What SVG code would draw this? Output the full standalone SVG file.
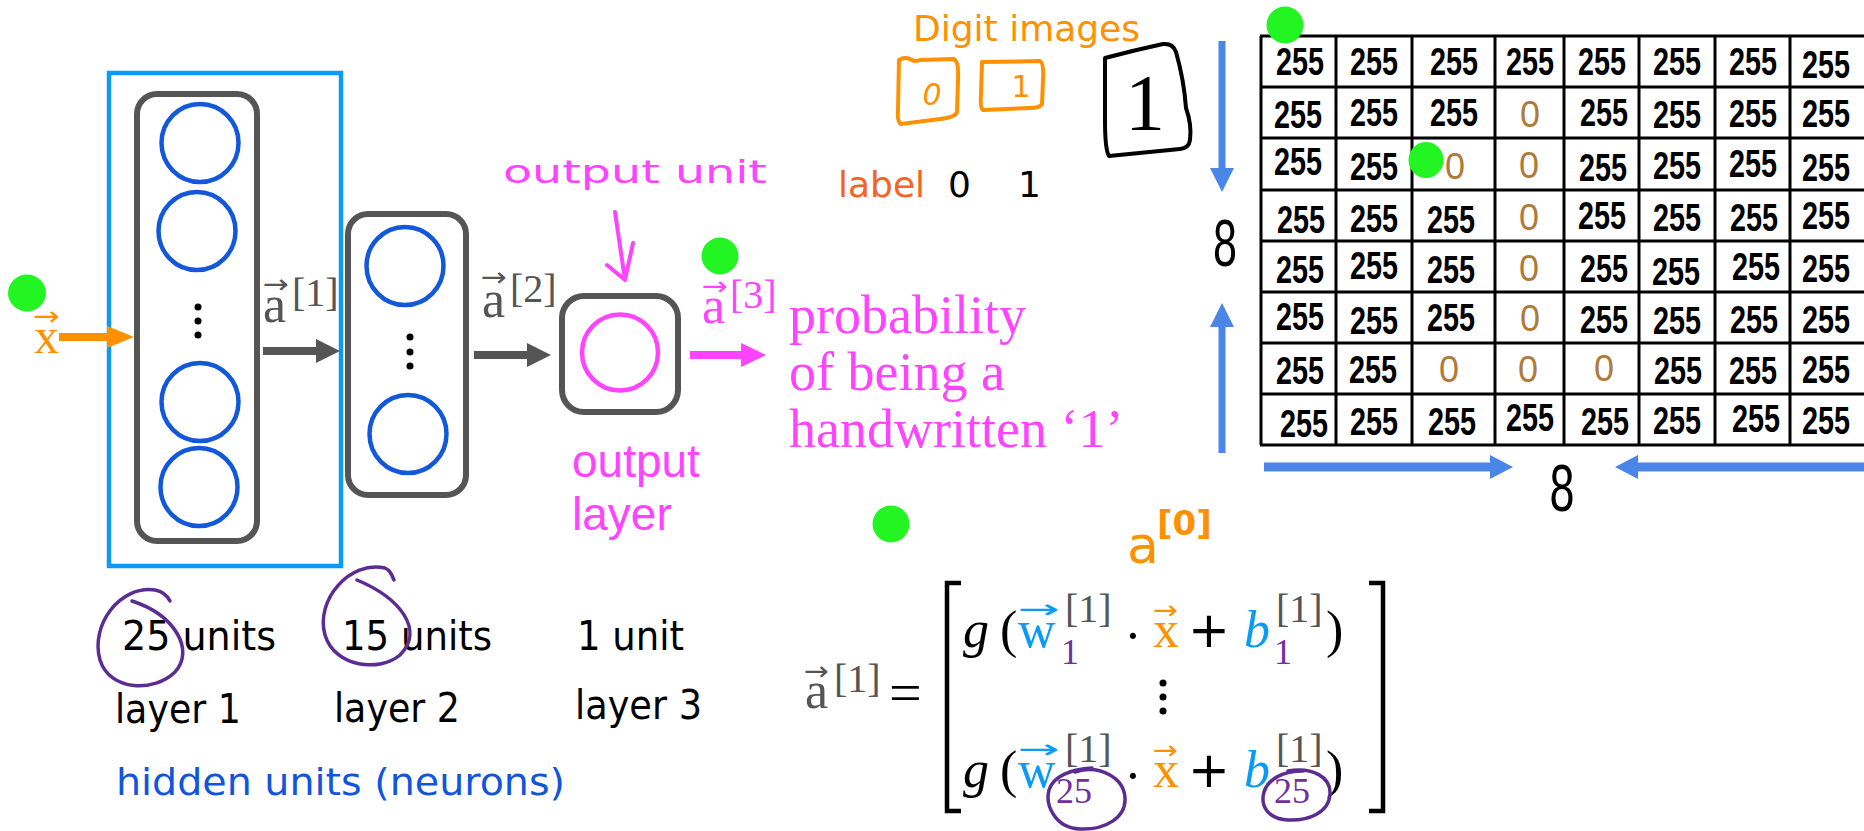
<svg xmlns="http://www.w3.org/2000/svg" width="1864" height="831" viewBox="0 0 1864 831">
<defs>
<style>
.gbox{fill:none;stroke:#555;stroke-width:6}
.neu{fill:none;stroke:#1358DA;stroke-width:4.5}
.dot{fill:#000}
.serif{font-family:"Liberation Serif","Times New Roman",serif}
.arr{font-family:"DejaVu Sans",sans-serif}
.lbl{font-family:"DejaVu Sans","Liberation Sans",sans-serif;font-size:40px;fill:#000}
.cell{font-family:"Liberation Sans",sans-serif;font-size:38px;font-weight:bold;text-anchor:middle;fill:#000}
.zero{font-family:"Liberation Sans",sans-serif;font-size:36px;text-anchor:middle;fill:#B07A3A}
.grid line{stroke:#000;stroke-width:3}
.green{fill:#22F522}
.purple{fill:none;stroke:#5B2C91;stroke-width:3.5;stroke-linecap:round}
.hand{fill:none;stroke-width:4;stroke-linecap:round;stroke-linejoin:round}
.blue{fill:#4A86E8}
</style>
</defs>
<rect width="1864" height="831" fill="#fff"/>

<g id="layer1">
<rect x="109" y="73" width="232" height="493" fill="none" stroke="#0B9BF6" stroke-width="4.5"/>
<rect class="gbox" x="137" y="94" width="120" height="447" rx="20"/>
<ellipse class="neu" cx="200" cy="143" rx="38.5" ry="39"/>
<ellipse class="neu" cx="197" cy="231" rx="38.5" ry="39"/>
<ellipse class="neu" cx="200" cy="402" rx="38.5" ry="39"/>
<ellipse class="neu" cx="199" cy="487" rx="38.5" ry="39"/>
<circle class="dot" cx="198" cy="307" r="3.5"/>
<circle class="dot" cx="198" cy="321" r="3.5"/>
<circle class="dot" cx="198" cy="335" r="3.5"/>
</g>

<g id="layer2">
<rect class="gbox" x="348" y="214" width="118" height="281" rx="20"/>
<ellipse class="neu" cx="405" cy="266" rx="38.5" ry="39"/>
<ellipse class="neu" cx="408" cy="434" rx="38.5" ry="39"/>
<circle class="dot" cx="410" cy="337" r="3.5"/>
<circle class="dot" cx="410" cy="352" r="3.5"/>
<circle class="dot" cx="410" cy="366" r="3.5"/>
</g>

<g id="output">
<rect class="gbox" x="562" y="296" width="116" height="116" rx="22"/>
<ellipse cx="620" cy="352.5" rx="38" ry="38" fill="none" stroke="#FF44FF" stroke-width="4.5"/>
<text x="572" y="477" font-family="Liberation Sans, sans-serif" font-size="46" fill="#FF44FF">output</text>
<text x="572" y="530" font-family="Liberation Sans, sans-serif" font-size="46" fill="#FF44FF">layer</text>
<text x="503" y="183" font-family="DejaVu Sans, sans-serif" font-size="32" fill="#FF44FF" textLength="264" lengthAdjust="spacingAndGlyphs">output unit</text>
<path class="hand" stroke="#FF44FF" d="M615 212 L625 280 M607 265 L625 280 L633 243"/>
</g>

<g id="connectors">
<rect x="59" y="333" width="49" height="8" fill="#FF9100"/>
<polygon points="107,326 134,337 107,348" fill="#FF9100"/>
<rect x="263" y="347" width="54" height="8" fill="#555"/>
<polygon points="316,339 340,351 316,363" fill="#555"/>
<rect x="474" y="351" width="54" height="8" fill="#555"/>
<polygon points="527,343 551,355 527,367" fill="#555"/>
<rect x="690" y="351" width="52" height="8" fill="#FF44FF"/>
<polygon points="741,343 766,355 741,367" fill="#FF44FF"/>
</g>

<g id="vector-labels">
<text class="serif" x="34" y="353" font-size="50" fill="#FF9100">x</text>
<text class="arr" x="33" y="325" font-size="26" fill="#FF9100" textLength="27" lengthAdjust="spacingAndGlyphs">→</text>
<text class="serif" x="263" y="322" font-size="52" fill="#555">a</text>
<text class="arr" x="263" y="293" font-size="26" fill="#555" textLength="26" lengthAdjust="spacingAndGlyphs">→</text>
<text class="serif" x="292" y="306" font-size="40" fill="#555">[1]</text>
<text class="serif" x="482" y="317" font-size="52" fill="#555">a</text>
<text class="arr" x="481" y="286" font-size="26" fill="#555" textLength="26" lengthAdjust="spacingAndGlyphs">→</text>
<text class="serif" x="510" y="302" font-size="40" fill="#555">[2]</text>
<text class="serif" x="702" y="323" font-size="52" fill="#FF44FF">a</text>
<text class="arr" x="702" y="295" font-size="26" fill="#FF44FF" textLength="26" lengthAdjust="spacingAndGlyphs">→</text>
<text class="serif" x="730" y="308" font-size="40" fill="#FF44FF">[3]</text>
</g>

<g id="probability" class="serif" font-size="54" fill="#FF44FF">
<text x="789" y="333">probability</text>
<text x="789" y="390">of being a</text>
<text x="789" y="447">handwritten ‘1’</text>
</g>

<g id="layer-labels">
<text class="lbl" x="122" y="650" textLength="154" lengthAdjust="spacingAndGlyphs">25 units</text>
<text class="lbl" x="342" y="650" textLength="150" lengthAdjust="spacingAndGlyphs">15 units</text>
<text class="lbl" x="577" y="650" textLength="107" lengthAdjust="spacingAndGlyphs">1 unit</text>
<text class="lbl" x="115" y="723" textLength="126" lengthAdjust="spacingAndGlyphs">layer 1</text>
<text class="lbl" x="334" y="722" textLength="126" lengthAdjust="spacingAndGlyphs">layer 2</text>
<text class="lbl" x="575" y="719" textLength="127" lengthAdjust="spacingAndGlyphs">layer 3</text>
<text x="116" y="795" font-family="DejaVu Sans, sans-serif" font-size="38" fill="#1155DD" textLength="449" lengthAdjust="spacingAndGlyphs">hidden units (neurons)</text>
<path class="purple" d="M132 601 C175 615 195 650 175 672 C155 692 110 692 100 660 C90 625 120 585 155 590 C165 592 168 597 170 601"/>
<path class="purple" d="M357 580 C400 598 425 630 400 655 C380 672 335 668 325 635 C315 600 350 560 385 568 C390 570 392 575 394 580"/>
</g>

<g id="digit-images">
<text x="913" y="41" font-family="DejaVu Sans, sans-serif" font-size="36" fill="#FF9100">Digit images</text>
<path class="hand" stroke="#FF9100" d="M899 60 Q905 56 912 60 Q915 62 920 60 L954 59 Q959 62 958 80 L957 112 Q956 117 940 119 L901 124 Q897 122 898 110 Z"/>
<text x="932" y="105" font-family="DejaVu Sans, sans-serif" font-size="30" fill="#FF9100" text-anchor="middle" font-style="italic">0</text>
<path class="hand" stroke="#FF9100" d="M982 62 L1040 61 Q1044 63 1043 80 L1042 104 Q1040 108 1030 108 L983 110 Q980 108 981 95 Z"/>
<text x="1021" y="97" font-family="DejaVu Sans, sans-serif" font-size="30" fill="#FF9100" text-anchor="middle">1</text>
<path class="hand" stroke="#000" d="M1105 58 Q1135 50 1163 44 Q1173 43 1176 52 Q1184 80 1186 108 Q1192 125 1190 140 Q1189 148 1180 149 L1109 156 Q1105 150 1105 120 Z"/>
<text x="1145" y="130" font-family="Liberation Serif, serif" font-size="80" fill="#000" text-anchor="middle">1</text>
<text x="838" y="197" font-family="DejaVu Sans, sans-serif" font-size="36" fill="#F26522">label</text>
<text x="948" y="197" font-family="DejaVu Sans, sans-serif" font-size="36" fill="#000">0</text>
<text x="1018" y="197" font-family="DejaVu Sans, sans-serif" font-size="36" fill="#000">1</text>
</g>

<g id="size-arrows">
<rect class="blue" x="1218.5" y="41" width="7" height="129"/>
<polygon class="blue" points="1210,168 1234,168 1222,192"/>
<polygon class="blue" points="1210,327 1234,327 1222,303"/>
<rect class="blue" x="1218.5" y="325" width="7" height="128"/>
<text x="1225" y="266" font-family="Liberation Sans, sans-serif" font-size="66" text-anchor="middle" textLength="24" lengthAdjust="spacingAndGlyphs">8</text>
<rect class="blue" x="1264" y="462.5" width="228" height="9"/>
<polygon class="blue" points="1490,455 1513,467 1490,479"/>
<polygon class="blue" points="1638,455 1615,467 1638,479"/>
<rect class="blue" x="1636" y="462.5" width="228" height="9"/>
<text x="1562" y="511" font-family="Liberation Sans, sans-serif" font-size="66" text-anchor="middle" textLength="25" lengthAdjust="spacingAndGlyphs">8</text>
</g>

<g id="grid" class="grid">
<line x1="1261" y1="36" x2="1261" y2="445"/>
<line x1="1336" y1="36" x2="1336" y2="445"/>
<line x1="1412" y1="36" x2="1412" y2="445"/>
<line x1="1495" y1="36" x2="1495" y2="445"/>
<line x1="1564" y1="36" x2="1564" y2="445"/>
<line x1="1639" y1="36" x2="1639" y2="445"/>
<line x1="1715" y1="36" x2="1715" y2="445"/>
<line x1="1790" y1="36" x2="1790" y2="445"/>
<line x1="1260" y1="36" x2="1864" y2="36"/>
<line x1="1260" y1="87" x2="1864" y2="87"/>
<line x1="1260" y1="138" x2="1864" y2="138"/>
<line x1="1260" y1="190" x2="1864" y2="190"/>
<line x1="1260" y1="241" x2="1864" y2="241"/>
<line x1="1260" y1="292" x2="1864" y2="292"/>
<line x1="1260" y1="343" x2="1864" y2="343"/>
<line x1="1260" y1="394" x2="1864" y2="394"/>
<line x1="1260" y1="445" x2="1864" y2="445"/>
</g>

<g id="grid-values">
<text class="cell" x="1300" y="75" textLength="48" lengthAdjust="spacingAndGlyphs">255</text>
<text class="cell" x="1374" y="75" textLength="48" lengthAdjust="spacingAndGlyphs">255</text>
<text class="cell" x="1454" y="75" textLength="48" lengthAdjust="spacingAndGlyphs">255</text>
<text class="cell" x="1530" y="75" textLength="48" lengthAdjust="spacingAndGlyphs">255</text>
<text class="cell" x="1602" y="75" textLength="48" lengthAdjust="spacingAndGlyphs">255</text>
<text class="cell" x="1677" y="75" textLength="48" lengthAdjust="spacingAndGlyphs">255</text>
<text class="cell" x="1753" y="75" textLength="48" lengthAdjust="spacingAndGlyphs">255</text>
<text class="cell" x="1826" y="78" textLength="48" lengthAdjust="spacingAndGlyphs">255</text>

<text class="cell" x="1298" y="128" textLength="48" lengthAdjust="spacingAndGlyphs">255</text>
<text class="cell" x="1374" y="126" textLength="48" lengthAdjust="spacingAndGlyphs">255</text>
<text class="cell" x="1454" y="126" textLength="48" lengthAdjust="spacingAndGlyphs">255</text>
<text class="zero" x="1530" y="127">0</text>
<text class="cell" x="1604" y="126" textLength="48" lengthAdjust="spacingAndGlyphs">255</text>
<text class="cell" x="1677" y="128" textLength="48" lengthAdjust="spacingAndGlyphs">255</text>
<text class="cell" x="1753" y="127" textLength="48" lengthAdjust="spacingAndGlyphs">255</text>
<text class="cell" x="1826" y="127" textLength="48" lengthAdjust="spacingAndGlyphs">255</text>

<text class="cell" x="1298" y="175" textLength="48" lengthAdjust="spacingAndGlyphs">255</text>
<text class="cell" x="1374" y="180" textLength="48" lengthAdjust="spacingAndGlyphs">255</text>
<text class="zero" x="1455" y="179">0</text>
<text class="zero" x="1529" y="178">0</text>
<text class="cell" x="1603" y="181" textLength="48" lengthAdjust="spacingAndGlyphs">255</text>
<text class="cell" x="1677" y="179" textLength="48" lengthAdjust="spacingAndGlyphs">255</text>
<text class="cell" x="1753" y="177" textLength="48" lengthAdjust="spacingAndGlyphs">255</text>
<text class="cell" x="1826" y="181" textLength="48" lengthAdjust="spacingAndGlyphs">255</text>

<text class="cell" x="1301" y="233" textLength="48" lengthAdjust="spacingAndGlyphs">255</text>
<text class="cell" x="1374" y="232" textLength="48" lengthAdjust="spacingAndGlyphs">255</text>
<text class="cell" x="1451" y="233" textLength="48" lengthAdjust="spacingAndGlyphs">255</text>
<text class="zero" x="1529" y="230">0</text>
<text class="cell" x="1602" y="229" textLength="48" lengthAdjust="spacingAndGlyphs">255</text>
<text class="cell" x="1677" y="231" textLength="48" lengthAdjust="spacingAndGlyphs">255</text>
<text class="cell" x="1754" y="231" textLength="48" lengthAdjust="spacingAndGlyphs">255</text>
<text class="cell" x="1826" y="229" textLength="48" lengthAdjust="spacingAndGlyphs">255</text>

<text class="cell" x="1300" y="283" textLength="48" lengthAdjust="spacingAndGlyphs">255</text>
<text class="cell" x="1374" y="279" textLength="48" lengthAdjust="spacingAndGlyphs">255</text>
<text class="cell" x="1451" y="283" textLength="48" lengthAdjust="spacingAndGlyphs">255</text>
<text class="zero" x="1529" y="281">0</text>
<text class="cell" x="1604" y="282" textLength="48" lengthAdjust="spacingAndGlyphs">255</text>
<text class="cell" x="1676" y="285" textLength="48" lengthAdjust="spacingAndGlyphs">255</text>
<text class="cell" x="1756" y="280" textLength="48" lengthAdjust="spacingAndGlyphs">255</text>
<text class="cell" x="1826" y="282" textLength="48" lengthAdjust="spacingAndGlyphs">255</text>

<text class="cell" x="1300" y="330" textLength="48" lengthAdjust="spacingAndGlyphs">255</text>
<text class="cell" x="1374" y="334" textLength="48" lengthAdjust="spacingAndGlyphs">255</text>
<text class="cell" x="1451" y="331" textLength="48" lengthAdjust="spacingAndGlyphs">255</text>
<text class="zero" x="1530" y="331">0</text>
<text class="cell" x="1604" y="333" textLength="48" lengthAdjust="spacingAndGlyphs">255</text>
<text class="cell" x="1677" y="334" textLength="48" lengthAdjust="spacingAndGlyphs">255</text>
<text class="cell" x="1754" y="333" textLength="48" lengthAdjust="spacingAndGlyphs">255</text>
<text class="cell" x="1826" y="333" textLength="48" lengthAdjust="spacingAndGlyphs">255</text>

<text class="cell" x="1300" y="384" textLength="48" lengthAdjust="spacingAndGlyphs">255</text>
<text class="cell" x="1373" y="383" textLength="48" lengthAdjust="spacingAndGlyphs">255</text>
<text class="zero" x="1449" y="382">0</text>
<text class="zero" x="1528" y="382">0</text>
<text class="zero" x="1604" y="381">0</text>
<text class="cell" x="1678" y="384" textLength="48" lengthAdjust="spacingAndGlyphs">255</text>
<text class="cell" x="1753" y="384" textLength="48" lengthAdjust="spacingAndGlyphs">255</text>
<text class="cell" x="1826" y="383" textLength="48" lengthAdjust="spacingAndGlyphs">255</text>

<text class="cell" x="1304" y="437" textLength="48" lengthAdjust="spacingAndGlyphs">255</text>
<text class="cell" x="1374" y="435" textLength="48" lengthAdjust="spacingAndGlyphs">255</text>
<text class="cell" x="1452" y="435" textLength="48" lengthAdjust="spacingAndGlyphs">255</text>
<text class="cell" x="1530" y="431" textLength="48" lengthAdjust="spacingAndGlyphs">255</text>
<text class="cell" x="1605" y="435" textLength="48" lengthAdjust="spacingAndGlyphs">255</text>
<text class="cell" x="1677" y="434" textLength="48" lengthAdjust="spacingAndGlyphs">255</text>
<text class="cell" x="1756" y="432" textLength="48" lengthAdjust="spacingAndGlyphs">255</text>
<text class="cell" x="1826" y="434" textLength="48" lengthAdjust="spacingAndGlyphs">255</text>
</g>

<g id="formula">
<text class="serif" x="805" y="708" font-size="52" fill="#555">a</text>
<text class="arr" x="804" y="680" font-size="26" fill="#555" textLength="25" lengthAdjust="spacingAndGlyphs">→</text>
<text class="serif" x="834" y="692" font-size="40" fill="#555">[1]</text>
<text class="serif" x="889" y="712" font-size="58" fill="#000">=</text>
<path d="M961 583 L947 583 L947 811 L961 811" fill="none" stroke="#000" stroke-width="4.5"/>
<path d="M1369 583 L1383 583 L1383 811 L1369 811" fill="none" stroke="#000" stroke-width="4.5"/>

<text class="serif" x="963" y="647" font-size="52" font-style="italic" fill="#000">g</text>
<text class="serif" x="1000" y="647" font-size="52" fill="#000">(</text>
<text class="serif" x="1018" y="647" font-size="52" fill="#0A9BF5">w</text>
<text class="arr" x="1018" y="618" font-size="26" fill="#0A9BF5" textLength="42" lengthAdjust="spacingAndGlyphs">→</text>
<text class="serif" x="1065" y="622" font-size="40" fill="#555">[1]</text>
<text class="serif" x="1061" y="664" font-size="36" fill="#7030A0">1</text>
<text class="serif" x="1133" y="653" font-size="52" fill="#000" text-anchor="middle">·</text>
<text class="serif" x="1153" y="647" font-size="52" fill="#FF9100">x</text>
<text class="arr" x="1153" y="619" font-size="26" fill="#FF9100" textLength="25" lengthAdjust="spacingAndGlyphs">→</text>
<text class="arr" x="1209" y="647" font-size="50" fill="#000" text-anchor="middle">+</text>
<text class="serif" x="1244" y="647" font-size="52" font-style="italic" fill="#0A9BF5">b</text>
<text class="serif" x="1276" y="622" font-size="40" fill="#555">[1]</text>
<text class="serif" x="1274" y="664" font-size="36" fill="#7030A0">1</text>
<text class="serif" x="1326" y="647" font-size="52" fill="#000">)</text>

<circle class="dot" cx="1163" cy="683" r="3.5"/>
<circle class="dot" cx="1163" cy="697" r="3.5"/>
<circle class="dot" cx="1163" cy="711" r="3.5"/>

<text class="serif" x="963" y="787" font-size="52" font-style="italic" fill="#000">g</text>
<text class="serif" x="1000" y="787" font-size="52" fill="#000">(</text>
<text class="serif" x="1018" y="787" font-size="52" fill="#0A9BF5">w</text>
<text class="arr" x="1018" y="758" font-size="26" fill="#0A9BF5" textLength="42" lengthAdjust="spacingAndGlyphs">→</text>
<text class="serif" x="1065" y="762" font-size="40" fill="#555">[1]</text>
<text class="serif" x="1056" y="803" font-size="36" fill="#7030A0">25</text>
<text class="serif" x="1133" y="793" font-size="52" fill="#000" text-anchor="middle">·</text>
<text class="serif" x="1153" y="787" font-size="52" fill="#FF9100">x</text>
<text class="arr" x="1153" y="759" font-size="26" fill="#FF9100" textLength="25" lengthAdjust="spacingAndGlyphs">→</text>
<text class="arr" x="1209" y="787" font-size="50" fill="#000" text-anchor="middle">+</text>
<text class="serif" x="1244" y="787" font-size="52" font-style="italic" fill="#0A9BF5">b</text>
<text class="serif" x="1276" y="762" font-size="40" fill="#555">[1]</text>
<text class="serif" x="1274" y="803" font-size="36" fill="#7030A0">25</text>
<text class="serif" x="1326" y="787" font-size="52" fill="#000">)</text>

<path class="purple" d="M1075 772 C1100 764 1124 778 1125 798 C1126 818 1105 830 1080 829 C1055 828 1045 805 1049 790 C1053 776 1072 769 1092 768"/>
<path class="purple" d="M1288 771 C1313 767 1331 777 1330 794 C1329 813 1308 821 1288 820 C1268 819 1260 806 1264 792 C1268 779 1283 771 1303 771"/>

<text x="1127" y="563" font-family="DejaVu Sans, sans-serif" font-size="52" fill="#FF9100">a</text>
<text x="1157" y="535" font-family="DejaVu Sans, sans-serif" font-size="34" font-weight="bold" fill="#FF9100">[0]</text>
</g>

<g id="markers">
<ellipse class="green" cx="27" cy="293" rx="19" ry="18.5"/>
<ellipse class="green" cx="720" cy="256" rx="18.5" ry="18.5"/>
<ellipse class="green" cx="891" cy="524" rx="18.5" ry="18.5"/>
<ellipse class="green" cx="1285" cy="25" rx="18.5" ry="18.5"/>
<ellipse class="green" cx="1426" cy="160" rx="17.5" ry="18"/>
</g>
</svg>
